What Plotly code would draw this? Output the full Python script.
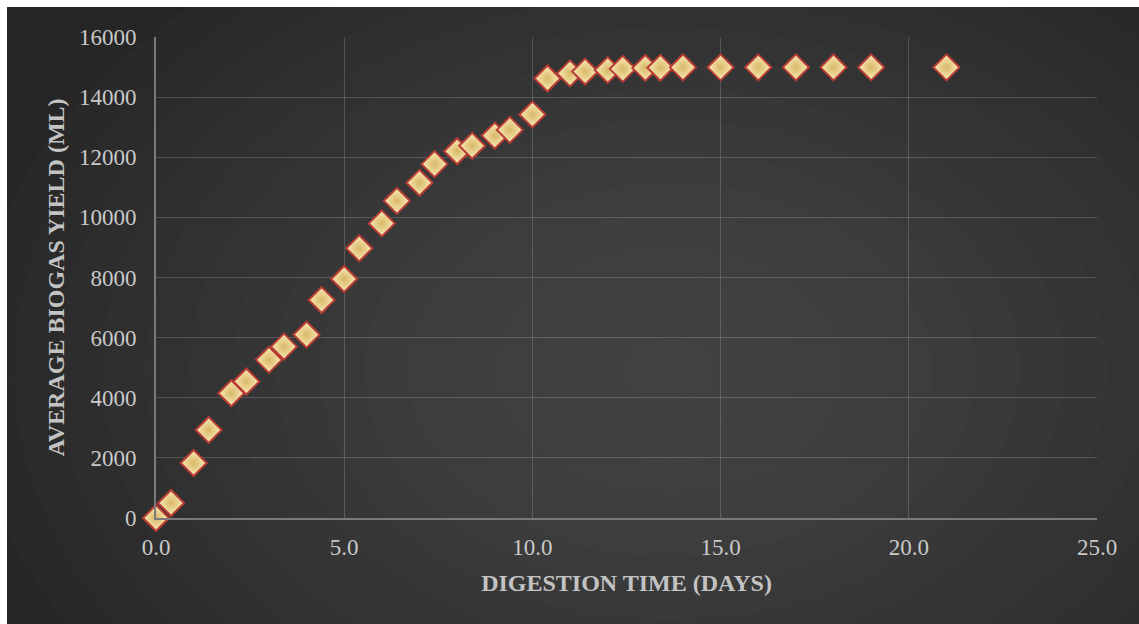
import plotly.graph_objects as go

# ---- data ----
days = [0, 0.4, 1.0, 1.4, 2.0, 2.4, 3.0, 3.4, 4.0, 4.4, 5.0, 5.4, 6.0, 6.4, 7.0, 7.4,
        8.0, 8.4, 9.0, 9.4, 10.0, 10.4, 11.0, 11.4, 12.0, 12.4, 13.0, 13.4, 14.0,
        15.0, 16.0, 17.0, 18.0, 19.0, 21.0]
biogas = [0, 500, 1830, 2930, 4150, 4540, 5260, 5700, 6100, 7250, 7950, 8970, 9800, 10550,
          11150, 11770, 12200, 12380, 12720, 12910, 13420, 14620, 14790, 14850, 14900,
          14940, 14970, 14975, 14990, 14990, 14990, 14990, 14990, 14990, 14990]
x_ticks = [0, 5, 10, 15, 20, 25]
x_tick_labels = ["0.0", "5.0", "10.0", "15.0", "20.0", "25.0"]
y_ticks = [0, 2000, 4000, 6000, 8000, 10000, 12000, 14000, 16000]
y_tick_labels = ["0", "2000", "4000", "6000", "8000", "10000", "12000", "14000", "16000"]

W, H = 1139, 624
L, R, T, B = 156, 42, 37, 106
PW, PH = W - L - R, H - T - B

def px(xp):
    return (xp - L) / PW

def py(yp):
    return (H - B - yp) / PH

fig = go.Figure()
fig.add_trace(go.Scatter(
    x=days, y=biogas, mode="markers", cliponaxis=False,
    marker=dict(symbol="diamond", size=20, color="#fbebb8",
                gradient=dict(type="radial", color="#d8b868"),
                line=dict(color="#b83c36", width=2)),
    showlegend=False, hoverinfo="x+y"))

# background: dark panel with soft radial glow
shapes = [dict(type="rect", xref="paper", yref="paper", x0=px(-10), x1=px(W + 10),
               y0=py(H + 10), y1=py(-10), fillcolor="#262626", line=dict(width=0), layer="below")]
cx, cy = 670, 370
n = 16
for i in range(n):
    f = 1 - i / n
    rx, ry = 700 * f, 500 * f
    shapes.append(dict(type="circle", xref="paper", yref="paper",
                       x0=px(cx - rx), x1=px(cx + rx), y0=py(cy + ry), y1=py(cy - ry),
                       fillcolor="rgba(105,105,105,0.05)", line=dict(width=0), layer="below"))
# white frame strips (top and left)
shapes.append(dict(type="rect", xref="paper", yref="paper", x0=px(-10), x1=px(W + 10),
                   y0=py(7), y1=py(-10), fillcolor="white", line=dict(width=0), layer="below"))
shapes.append(dict(type="rect", xref="paper", yref="paper", x0=px(-10), x1=px(7),
                   y0=py(H + 10), y1=py(-10), fillcolor="white", line=dict(width=0), layer="below"))
fig.update_layout(shapes=shapes)

font_serif = "Liberation Serif"
fig.update_layout(
    width=W, height=H,
    margin=dict(l=L, r=R, t=T, b=B, pad=0),
    paper_bgcolor="white", plot_bgcolor="rgba(0,0,0,0)",
    font=dict(family=font_serif, size=23, color="#c9c9c9"),
)
fig.update_xaxes(
    range=[0, 25], tickvals=x_ticks, ticktext=x_tick_labels,
    showgrid=True, gridcolor="rgba(255,255,255,0.17)", gridwidth=1,
    showline=True, linecolor="#7a7a7a", linewidth=2, mirror=False,
    zeroline=False, ticks="", ticklabelstandoff=7,
    tickfont=dict(family=font_serif, size=23, color="#c9c9c9"),
    title=dict(text="<b>DIGESTION TIME (DAYS)</b>", standoff=16,
               font=dict(family=font_serif, size=24, color="#c3c3c3")),
)
fig.update_yaxes(
    range=[0, 16000], tickvals=y_ticks, ticktext=y_tick_labels,
    showgrid=True, gridcolor="rgba(255,255,255,0.17)", gridwidth=1,
    showline=True, linecolor="#7a7a7a", linewidth=2, mirror=False,
    zeroline=False, ticks="", ticklabelstandoff=13,
    tickfont=dict(family=font_serif, size=23, color="#c9c9c9"),
    title=dict(text="<b>AVERAGE BIOGAS YIELD (ML)</b>", standoff=8,
               font=dict(family=font_serif, size=24, color="#c3c3c3")),
)

fig.write_html("out.html")
